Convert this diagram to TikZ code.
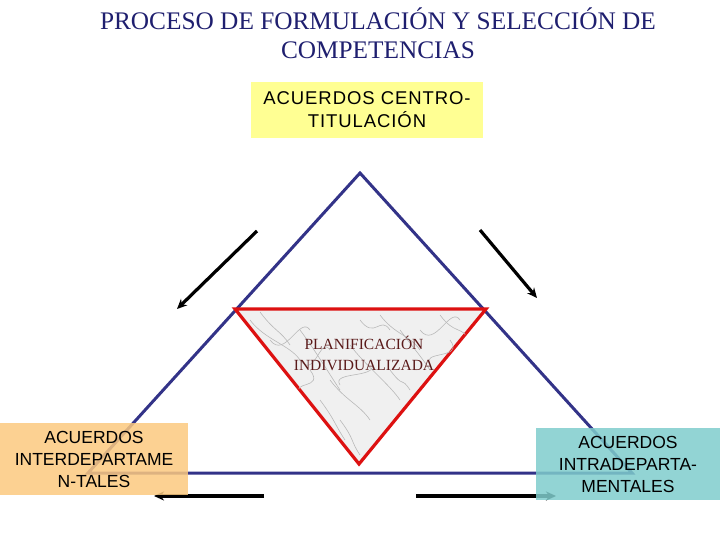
\documentclass[tikz,border=0pt]{standalone}
\usepackage{fontspec}
\setmainfont{Liberation Serif}
\setsansfont{Liberation Sans}
\usetikzlibrary{arrows.meta}
\definecolor{tblue}{HTML}{333388}
\definecolor{tred}{HTML}{DD1111}
\definecolor{byellow}{HTML}{FFFF80}
\definecolor{borange}{HTML}{FBC97F}
\definecolor{bteal}{HTML}{7FCCCC}
\definecolor{titlec}{HTML}{1F1F6F}
\definecolor{innerc}{HTML}{5A1A1A}
\tikzset{
  tri/.style={draw=tblue, line width=3pt, line join=miter},
  itri/.style={draw=tred, line width=3.2pt, fill=gray!12},
  arr/.style={draw=black, line width=3.2pt, -{Stealth[length=10pt,width=9pt]}},
  abox/.style={fill opacity=0.85, text opacity=1, inner sep=0pt, font=\sffamily\fontsize{17.5}{22}\selectfont, align=center},
}
\begin{document}
\begin{tikzpicture}[x=1pt,y=-1pt]
\useasboundingbox (0,0) rectangle (720,540);
% title
\node[font=\fontsize{25.3}{29}\selectfont, text=titlec, align=center] (title) at (378,33)
  {PROCESO DE FORMULACIÓN Y SELECCIÓN DE\\COMPETENCIAS};
% big triangle
\coordinate (apex) at (360,173);
\coordinate (bl) at (88,473);
\coordinate (br) at (632,473);
\draw[tri] (apex) -- (bl) -- (br) -- cycle;
% inner triangle
\coordinate (il) at (235,309);
\coordinate (ir) at (486,309);
\coordinate (ib) at (359,464);
\draw[itri] (il) -- (ir) -- (ib) -- cycle;
\begin{scope}
\clip (il) -- (ir) -- (ib) -- cycle;
\foreach \a/\b/\c/\d in {250/320/300/360, 300/330/340/390, 380/315/420/350, 420/330/460/320, 330/380/370/420, 270/340/310/330, 350/345/400/400, 440/315/470/340, 320/400/345/440, 390/370/410/390, 260/312/290/345, 400/330/430/370, 340/420/360/455, 300/360/330/350, 360/320/390/330, 450/340/430/365, 310/370/300/395, 370/360/340/385}
  \draw[gray!55, line width=0.6pt] (\a,\b) .. controls ({\a+15},{\b+20}) and ({\c-10},{\d-15}) .. (\c,\d);
\end{scope}
\node[font=\fontsize{15.5}{21}\selectfont, text=innerc, align=center] (plan) at (364,353)
  {PLANIFICACIÓN\\INDIVIDUALIZADA};
% arrows
\coordinate (a1s) at (257,231); \coordinate (a1e) at (177,309);
\coordinate (a2s) at (480,230); \coordinate (a2e) at (537,298);
\coordinate (a3s) at (264,496); \coordinate (a3e) at (154,496);
\coordinate (a4s) at (416,496); \coordinate (a4e) at (556,496);
\draw[arr] (a1s) -- (a1e);
\draw[arr] (a2s) -- (a2e);
\draw[arr] (a3s) -- (a3e);
\draw[arr] (a4s) -- (a4e);
% boxes
\node[abox, fill=byellow, minimum width=232pt, minimum height=56pt, font=\sffamily\fontsize{18.5}{23}\selectfont\addfontfeature{LetterSpace=5}] (top) at (367,110)
  {ACUERDOS CENTRO-\\TITULACIÓN};
\node[abox, fill=borange, minimum width=188pt, minimum height=72pt] (left) at (94,459)
  {ACUERDOS\\INTERDEPARTAME\\N-TALES};
\node[abox, fill=bteal, minimum width=184pt, minimum height=72pt] (right) at (628,464)
  {ACUERDOS\\INTRADEPARTA-\\MENTALES};
\end{tikzpicture}
\end{document}
